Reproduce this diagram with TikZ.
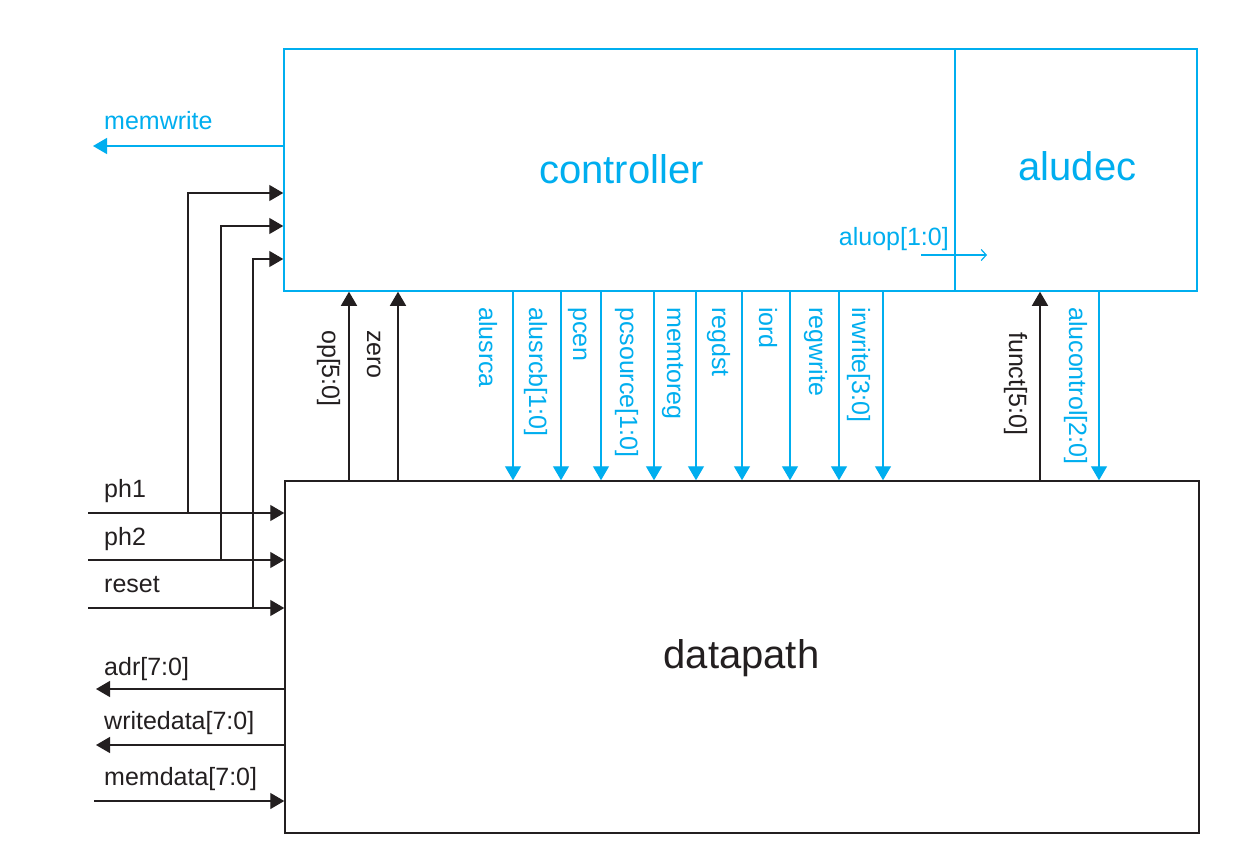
\documentclass[tikz,border=0pt]{standalone}
\usepackage{fontspec}
\setmainfont{Liberation Sans}
\usetikzlibrary{arrows.meta}
\definecolor{cblue}{RGB}{0,174,239}
\definecolor{cblk}{RGB}{35,31,32}
\begin{document}
\begin{tikzpicture}[x=1pt,y=-1pt,
  bluebox/.style={draw=cblue, line width=1.5pt, inner sep=0pt, anchor=center},
  blkbox/.style={draw=cblk, line width=1.5pt, inner sep=0pt, anchor=center},
  title/.style={font=\fontsize{40}{48}\selectfont, inner sep=0pt, anchor=base},
  lab/.style={font=\fontsize{25}{30}\selectfont, inner sep=0pt, anchor=base west},
  vlab/.style={lab, rotate=-90, anchor=base west},
  bsig/.style={draw=cblue, line width=1.4pt, -{Triangle[length=14pt,width=16pt]}},
  ksig/.style={draw=cblk, line width=1.4pt, -{Triangle[length=14pt,width=16pt]}},
  ksigl/.style={draw=cblk, line width=1.4pt}]
\useasboundingbox (0,0) rectangle (1254,868);
\fill[white] (0,0) rectangle (1254,868);

% boxes
\node[bluebox, minimum width=671pt, minimum height=242pt] (ctrl) at (619.5,170) {};
\node[bluebox, minimum width=242pt, minimum height=242pt] (alu) at (1076,170) {};
\node[blkbox, minimum width=914pt, minimum height=352pt] (dp) at (742,657) {};

\node[title, text=cblue] (ctrltxt) at (621.5,183) {controller};
\node[title, text=cblue] (alutxt) at (1077.5,180) {aludec};
\node[title, text=cblk] (dptxt) at (741.5,668) {datapath};

% memwrite
\coordinate (mwend) at (93,146);
\draw[bsig] (ctrl.west |- mwend) -- (mwend);
\node[lab, text=cblue] (mwlab) at (104,129) {memwrite};

% ph1, ph2, reset
\coordinate (ph1in) at (88,513);
\coordinate (ph2in) at (88,560);
\coordinate (rstin) at (88,608);
\coordinate (j1) at (188,513);
\coordinate (j2) at (221,560);
\coordinate (j3) at (253,608);
\coordinate (c1) at (0,193);
\coordinate (c2) at (0,226);
\coordinate (c3) at (0,259);
\draw[ksig] (ph1in) -- (dp.west |- ph1in);
\draw[ksig] (ph2in) -- (dp.west |- ph2in);
\draw[ksig] (rstin) -- (dp.west |- rstin);
\draw[ksig] (j1) |- (ctrl.west |- c1);
\draw[ksig] (j2) |- (ctrl.west |- c2);
\draw[ksig] (j3) |- (ctrl.west |- c3);
\node[lab, text=cblk] (ph1lab) at (104,497) {ph1};
\node[lab, text=cblk] (ph2lab) at (104,545) {ph2};
\node[lab, text=cblk] (rstlab) at (104,592) {reset};

% memory ports
\coordinate (adrend) at (96,689);
\coordinate (wdend) at (96,745);
\coordinate (mdin) at (94,801);
\draw[ksig] (dp.west |- adrend) -- (adrend);
\draw[ksig] (dp.west |- wdend) -- (wdend);
\draw[ksig] (mdin) -- (dp.west |- mdin);
\node[lab, text=cblk] (adrlab) at (104,675) {adr[7:0]};
\node[lab, text=cblk] (wdlab) at (104,729) {writedata[7:0]};
\node[lab, text=cblk] (mdlab) at (104,785) {memdata[7:0]};

% datapath -> controller
\draw[ksig] (dp.north -| 349,0) -- (ctrl.south -| 349,0);
\draw[ksig] (dp.north -| 398,0) -- (ctrl.south -| 398,0);
\node[vlab, text=cblk] (oplab) at (322,330) {op[5:0]};
\node[vlab, text=cblk] (zerolab) at (367,330) {zero};

% controller -> datapath
\foreach \xx in {513,561,601,654,696,742,790,839,883}
  \draw[bsig] (ctrl.south -| \xx,0) -- (dp.north -| \xx,0);
\node[vlab, text=cblue] (l1) at (479,307) {alusrca};
\node[vlab, text=cblue] (l2) at (529,307) {alusrcb[1:0]};
\node[vlab, text=cblue] (l3) at (573,307) {pcen};
\node[vlab, text=cblue] (l4) at (620,307) {pcsource[1:0]};
\node[vlab, text=cblue] (l5) at (667,307) {memtoreg};
\node[vlab, text=cblue] (l6) at (712,307) {regdst};
\node[vlab, text=cblue] (l7) at (759,307) {iord};
\node[vlab, text=cblue] (l8) at (809,307) {regwrite};
\node[vlab, text=cblue] (l9) at (852,307) {irwrite[3:0]};

% aludec connections
\draw[ksig] (dp.north -| 1040,0) -- (alu.south -| 1040,0);
\draw[bsig] (alu.south -| 1099,0) -- (dp.north -| 1099,0);
\node[vlab, text=cblk] (functlab) at (1009,332) {funct[5:0]};
\node[vlab, text=cblue] (aluclab) at (1069,307) {alucontrol[2:0]};

% aluop
\coordinate (aluopS) at (921,255);
\coordinate (aluopE) at (987,255);
\draw[draw=cblue, line width=1.2pt, -{Straight Barb[length=5pt,width=11pt]}] (aluopS) -- (aluopE);
\node[lab, text=cblue, anchor=base east] (aluoplab) at (949,245) {aluop[1:0]};
\end{tikzpicture}
\end{document}
